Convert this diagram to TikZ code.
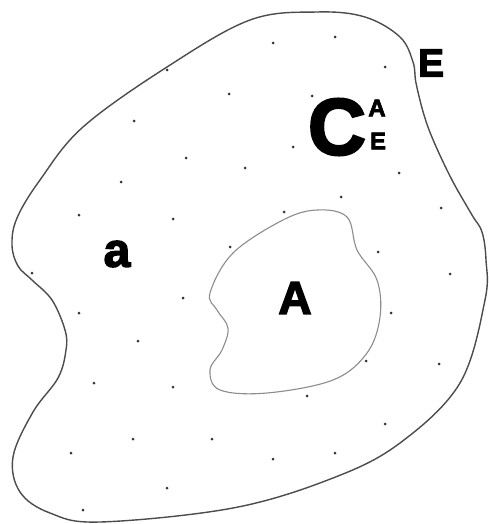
\documentclass[tikz,border=0pt]{standalone}
\usepackage{fontspec}
\setmainfont{Liberation Sans}
\newfontfamily\heavyfont[FakeBold=3]{Liberation Sans Bold}
\begin{document}
\begin{tikzpicture}[x=1pt,y=-1pt,
  outerline/.style={draw=black!70,line width=1.4pt},
  innerline/.style={draw=black!45,line width=1.1pt},
  dotmark/.style={fill=black!80},
  lbl/.style={inner sep=0pt}]
\useasboundingbox (0,0) rectangle (488,524);
% outer region E
\draw[outerline] plot[smooth cycle,tension=0.6] coordinates {
 (12,245) (18,266) (32,280) (52,300) (65,330) (66,350) (58,378) (33,412)
 (13,457) (20,492) (50,513) (100,522) (233,508) (333,478) (400,443)
 (460,383) (485,300) (486,260) (482,232) (472,215) (452,180) (434,142)
 (424,115) (416,83) (413,62) (400,37) (365,17) (317,12) (250,20) (167,67)
 (83,127) (40,180) (17,218)};
% inner region A
\draw[innerline] plot[smooth cycle,tension=0.6] coordinates {
 (210,293) (233,253) (283,220) (317,210) (347,217) (357,250) (377,280)
 (380,317) (367,353) (333,380) (267,393) (220,390) (210,370) (222,350)
 (228,328) (217,310)};
% dots
\foreach \p in {(273,43),(335,37),(167,70),(385,67),(229,94),(312,96),(134,121),
 (293,147),(186,158),(245,168),(399,173),(121,182),(341,197),(79,215),(173,219),
 (284,212),(441,208),(230,247),(378,252),(32,273),(450,274),(183,298),(79,313),
 (391,313),(138,341),(366,361),(439,364),(94,383),(173,387),(307,396),(385,424),
 (133,439),(212,439),(71,453),(273,459),(335,453),(167,488),(83,510)}
  \fill[dotmark] \p circle (1.5);
% labels
\node[lbl,font=\heavyfont\fontsize{39}{39}\selectfont] (lE) at (431,63) {E};
\node[lbl,font=\heavyfont\fontsize{80}{80}\selectfont] (lC) at (337,127) {C};
\node[lbl,font=\heavyfont\fontsize{24}{24}\selectfont] (lCA) at (377,108) {A};
\node[lbl,font=\heavyfont\fontsize{24}{24}\selectfont] (lCE) at (378,141) {E};
\node[lbl,font=\heavyfont\fontsize{48}{48}\selectfont] (la) at (117,254) {a};
\node[lbl,font=\heavyfont\fontsize{46}{46}\selectfont] (lA) at (295,298) {A};
\end{tikzpicture}
\end{document}
